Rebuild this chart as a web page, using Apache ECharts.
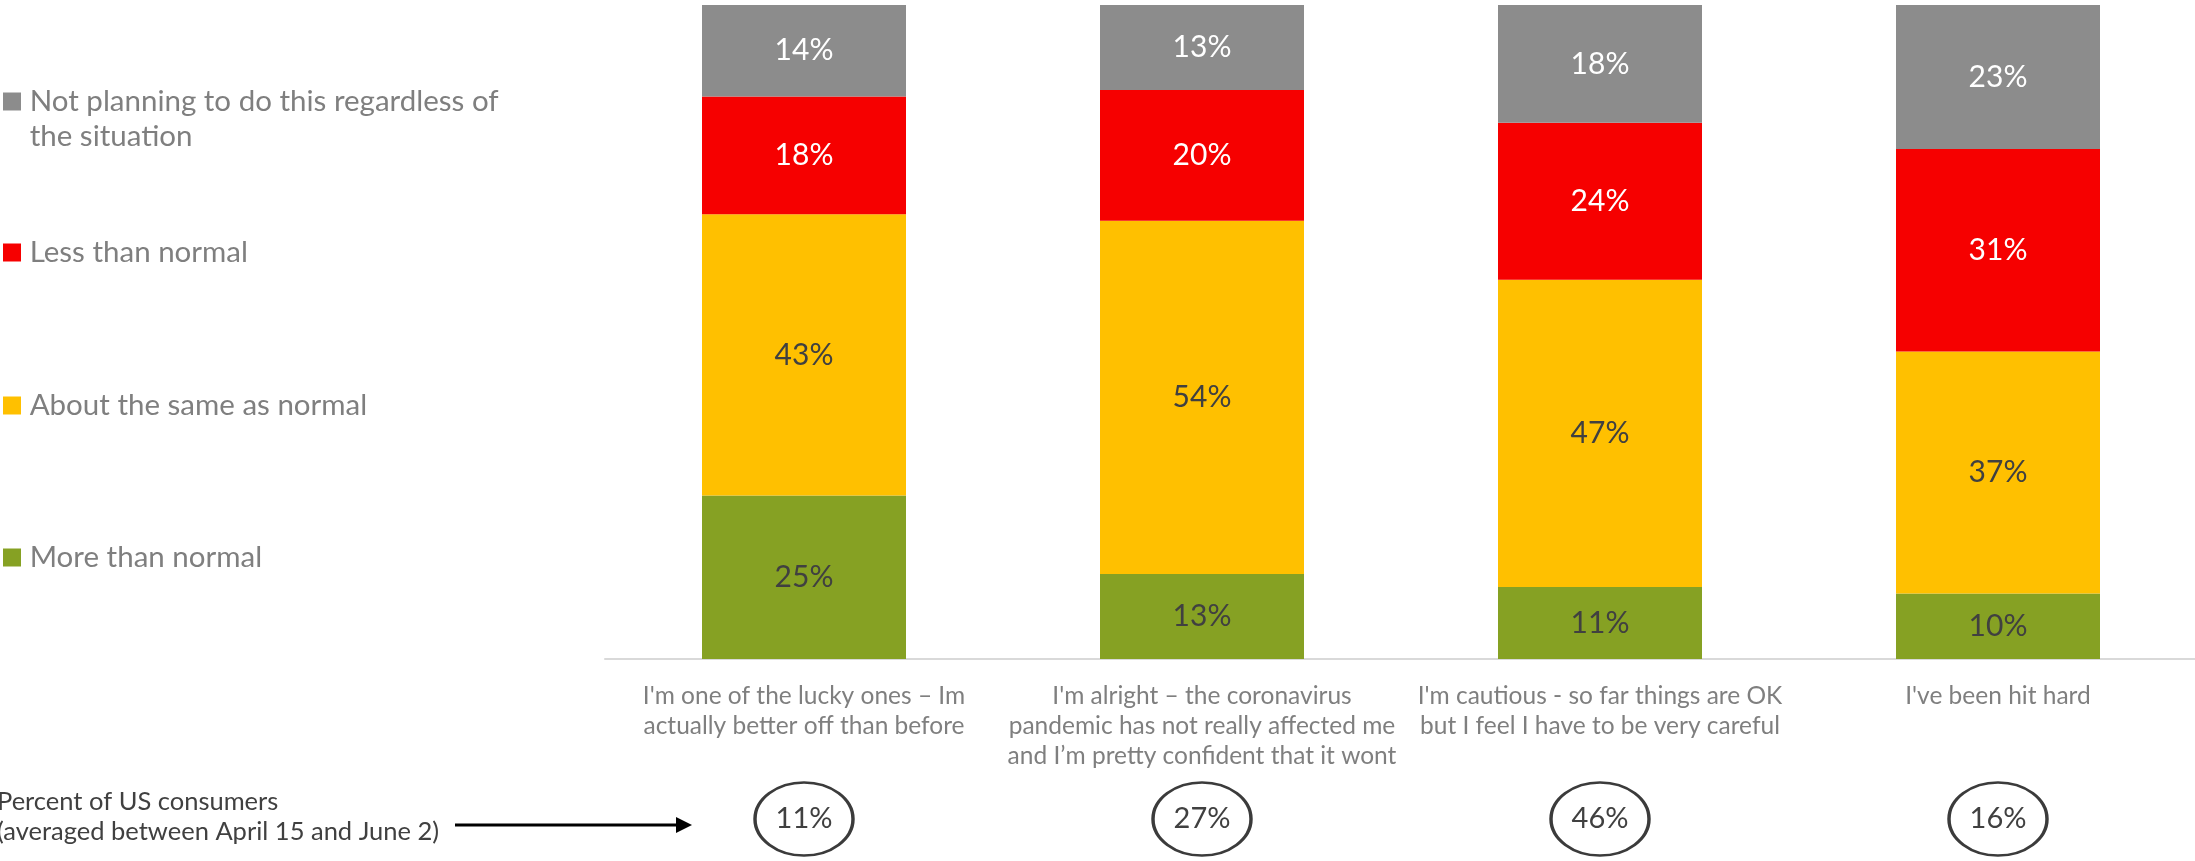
<!DOCTYPE html>
<html>
<head>
<meta charset="utf-8">
<script src="https://cdn.jsdelivr.net/npm/echarts@6.0.0/dist/echarts.min.js"></script>
<style>
  html, body { margin: 0; padding: 0; background: #ffffff; }
  #chart { width: 2195px; height: 861px; }
</style>
</head>
<body>
<div id="chart"></div>
<script>
// Consumer outlook groups (x-axis categories)
const categories = [
  "I'm one of the lucky ones – Im\nactually better off than before",
  "I'm alright – the coronavirus\npandemic has not really affected me\nand I’m pretty confident that it wont",
  "I'm cautious - so far things are OK\nbut I feel I have to be very careful",
  "I've been hit hard"
];

// Stack order, bottom to top
const seriesNames = [
  'More than normal',
  'About the same as normal',
  'Less than normal',
  'Not planning to do this regardless of the situation'
];

const moreThanNormal = [25, 13, 11, 10];
const aboutSame      = [43, 54, 47, 37];
const lessThanNormal = [18, 20, 24, 31];
const notPlanning    = [14, 13, 18, 23];

// Share of US consumers in each group
const consumerShare = [11, 27, 46, 16];

const seriesColors = ['#86a123', '#ffc000', '#f60000', '#8c8c8c'];
const labelColors  = ['#404040', '#404040', '#ffffff', '#ffffff'];
const seriesValues = [moreThanNormal, aboutSame, lessThanNormal, notPlanning];

const FONT = 'Lato';

const barSeries = seriesNames.map((name, i) => ({
  name: name,
  type: 'bar',
  stack: 'total',
  xAxisIndex: 0,
  yAxisIndex: 0,
  barWidth: 204,
  data: seriesValues[i],
  itemStyle: { color: seriesColors[i] },
  label: {
    show: true,
    position: 'inside',
    formatter: '{c}%',
    color: labelColors[i],
    fontSize: 30,
    fontFamily: FONT
  }
}));

// Oval outline used for the consumer-share markers
const ovalPath = 'path://M0,50 A50,50 0 1,1 100,50 A50,50 0 1,1 0,50 Z';

const shareSeries = {
  name: 'share',
  type: 'scatter',
  xAxisIndex: 1,
  yAxisIndex: 1,
  silent: true,
  symbol: ovalPath,
  symbolSize: [98, 73],
  data: consumerShare.map((v, i) => [i, 1, v]),
  itemStyle: { color: 'rgba(255,255,255,0)', borderColor: '#3b3b3b', borderWidth: 3, opacity: 1 },
  label: {
    show: true,
    position: 'inside',
    formatter: p => p.value[2] + '%',
    color: '#404040',
    fontSize: 29,
    fontFamily: FONT
  }
};

// thin space: a slightly wider gap between marker and text
const GAP = '\u2009';

const legendBase = {
  orient: 'vertical',
  left: 3,
  padding: 0,
  icon: 'rect',
  itemWidth: 18,
  itemHeight: 18,
  selectedMode: false,
  formatter: n => GAP + n,
  textStyle: { color: '#7f7f7f', fontSize: 29.5, fontFamily: FONT, lineHeight: 35 }
};

// Icon centres sit at top + half the text block height
const legendTops = [540, 388, 235, 49];

const legends = seriesNames.map((name, i) => {
  const lg = Object.assign({}, legendBase, { data: [name], top: legendTops[i] });
  if (i === 3) {
    // leading empty line keeps the marker level with the first text line
    lg.formatter = n => '\n' + GAP + n.replace(' of the ', ' of\n' + GAP + 'the ');
  }
  return lg;
});

const chart = echarts.init(document.getElementById('chart'), null, { renderer: 'canvas' });

chart.setOption({
  animation: false,
  backgroundColor: '#ffffff',
  legend: legends,
  grid: [
    { left: 605, top: 5, width: 1592, height: 654, containLabel: false, outerBoundsMode: 'none' },
    { left: 605, top: 783, width: 1592, height: 72, containLabel: false, outerBoundsMode: 'none' }
  ],
  xAxis: [
    {
      type: 'category',
      gridIndex: 0,
      data: categories,
      axisLine: { show: true, lineStyle: { color: '#d9d9d9', width: 2 } },
      axisTick: { show: false },
      axisLabel: {
        interval: 0,
        color: '#7f7f7f',
        fontSize: 24.5,
        fontFamily: FONT,
        lineHeight: 30,
        margin: 22
      }
    },
    {
      type: 'category',
      gridIndex: 1,
      data: categories,
      show: false
    }
  ],
  yAxis: [
    { type: 'value', gridIndex: 0, min: 0, max: 100, show: false, splitLine: { show: false } },
    { type: 'value', gridIndex: 1, min: 0, max: 2, show: false, splitLine: { show: false } }
  ],
  series: barSeries.concat([shareSeries]),
  graphic: [
    {
      type: 'text',
      x: -3,
      y: 817,
      silent: true,
      style: {
        text: 'Percent of US consumers\n(averaged between April 15 and June 2)',
        fill: '#404040',
        fontSize: 25.5,
        fontFamily: FONT,
        lineHeight: 30,
        verticalAlign: 'middle'
      }
    },
    {
      type: 'line',
      silent: true,
      shape: { x1: 455, y1: 825, x2: 680, y2: 825 },
      style: { stroke: '#000000', lineWidth: 3 }
    },
    {
      type: 'polygon',
      silent: true,
      shape: { points: [[676, 817], [692, 825], [676, 833]] },
      style: { fill: '#000000' }
    }
  ]
});
</script>
</body>
</html>
